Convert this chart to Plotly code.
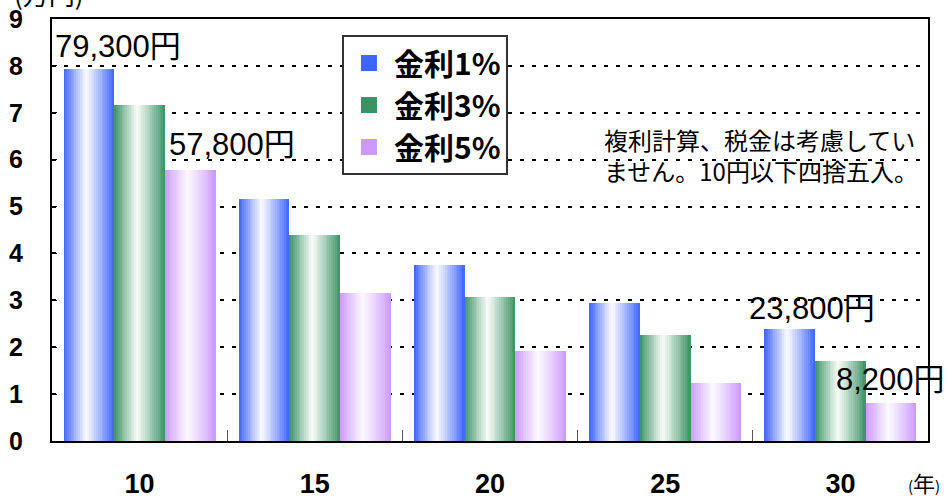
import plotly.graph_objects as go

# Monthly amounts (万円) by saving period and interest rate
years = ["10", "15", "20", "25", "30"]
series_names = ["金利1%", "金利3%", "金利5%"]
rate1 = [7.93, 5.16, 3.75, 2.94, 2.38]
rate3 = [7.16, 4.39, 3.07, 2.26, 1.71]
rate5 = [5.78, 3.16, 1.92, 1.24, 0.82]
y_ticks = list(range(10))

series_values = [rate1, rate3, rate5]
edge_colors = [(62, 100, 255), (58, 146, 100), (204, 153, 255)]
mid_colors = [(248, 249, 255), (247, 251, 248), (252, 248, 255)]

GROUP = 0.868          # fraction of a category occupied by the three bars
BAR_W = GROUP / 3
N_STRIPS = 28          # vertical slices used to shade each bar
PEAK = 0.45            # position of the lightest slice across a bar

LATIN = "Liberation Sans, Arial, Noto Sans CJK JP"
CJK = "Noto Sans CJK JP, Liberation Sans"


def shade(edge, mid, t):
    d = (PEAK - t) / PEAK if t < PEAK else (t - PEAK) / (1 - PEAK)
    d = min(1.0, max(0.0, d)) ** 1.1
    r, g, b = (round(m + (e - m) * d) for e, m in zip(edge, mid))
    return f"rgb({r},{g},{b})"


fig = go.Figure()

for s, (name, vals) in enumerate(zip(series_names, series_values)):
    start = -GROUP / 2 + s * BAR_W
    step = BAR_W / N_STRIPS
    for i in range(N_STRIPS):
        t = (i + 0.5) / N_STRIPS
        w = step * 1.6 if i < N_STRIPS - 1 else step
        fig.add_trace(go.Bar(
            x=years, y=vals,
            offset=start + i * step, width=w,
            marker=dict(color=shade(edge_colors[s], mid_colors[s], t), line=dict(width=0)),
            legendgroup=name, showlegend=False, name=name,
            hoverinfo="skip" if i != N_STRIPS // 2 else None,
        ))

# legend entries
for s, name in enumerate(series_names):
    r, g, b = edge_colors[s]
    fig.add_trace(go.Scatter(
        x=[None], y=[None], mode="markers", name=name, legendgroup=name,
        marker=dict(symbol="square", size=16, color=f"rgb({r},{g},{b})",
                    line=dict(width=0)),
        showlegend=True,
    ))

# value labels
label_font = dict(family=LATIN, size=31, color="black")
fig.add_annotation(x=-GROUP / 2, y=rate1[0], text="79,300円", xref="x", yref="y",
                   xanchor="left", yanchor="bottom", xshift=-11, yshift=3,
                   showarrow=False, font=label_font)
fig.add_annotation(x=-GROUP / 2 + 2 * BAR_W, y=rate5[0], text="57,800円", xref="x", yref="y",
                   xanchor="left", yanchor="bottom", xshift=2, yshift=6,
                   showarrow=False, font=label_font)
fig.add_annotation(x=4 - GROUP / 2 + 0.5 * BAR_W, y=rate1[4], text="23,800円", xref="x", yref="y",
                   xanchor="center", yanchor="bottom", xshift=22, yshift=1,
                   showarrow=False, font=label_font)
fig.add_annotation(x=4 - GROUP / 2 + 2.5 * BAR_W, y=rate5[4], text="8,200円", xref="x", yref="y",
                   xanchor="center", yanchor="bottom", xshift=-1, yshift=4,
                   showarrow=False, font=label_font)

# note
fig.add_annotation(x=0.628, y=0.76, xref="paper", yref="paper",
                   text="複利計算、税金は考慮してい<br>ません。10円以下四捨五入。",
                   xanchor="left", yanchor="top", align="left", showarrow=False,
                   font=dict(family=CJK, size=24, color="black"))

# axis unit labels
fig.add_annotation(x=-0.046, y=1.011, xref="paper", yref="paper", text="(万円)",
                   xanchor="left", yanchor="bottom", showarrow=False,
                   font=dict(family=CJK, size=26, color="black"))
fig.add_annotation(x=0.995, y=-0.098, xref="paper", yref="paper",
                   text="<span style='font-size:15px'>(</span>年<span style='font-size:15px'>)</span>",
                   xanchor="center", yanchor="middle", showarrow=False,
                   font=dict(family=CJK, size=22, color="black"))

fig.update_layout(
    width=949, height=498,
    margin=dict(l=52, r=21, t=19, b=57, autoexpand=False),
    paper_bgcolor="white", plot_bgcolor="white",
    barmode="overlay", bargap=0,
    showlegend=True,
    legend=dict(
        x=0.331, y=0.962, xanchor="left", yanchor="top",
        bgcolor="white", bordercolor="#333", borderwidth=2,
        font=dict(family=CJK, size=30, color="black", weight="bold"),
        itemwidth=40, tracegroupgap=0,
    ),
    xaxis=dict(
        type="category", range=[-0.5, 4.5], automargin=False,
        showline=True, linecolor="black", linewidth=2, mirror=True,
        ticks="inside", tickson="boundaries", ticklen=11, tickwidth=1, tickcolor="#555",
        tickfont=dict(family=LATIN, size=27, color="black", weight="bold"),
        ticklabelstandoff=18, showgrid=False,
    ),
    yaxis=dict(
        range=[0, 9], tickvals=y_ticks, automargin=False,
        showline=True, linecolor="black", linewidth=2, mirror=True,
        ticks="inside", ticklen=5, tickwidth=1, tickcolor="black",
        tickfont=dict(family=LATIN, size=25, color="black", weight="bold"),
        ticklabelstandoff=22,
        showgrid=True, gridcolor="black", gridwidth=2, griddash="4px,8px",
        zeroline=False,
    ),
)

fig.write_html("out.html")
